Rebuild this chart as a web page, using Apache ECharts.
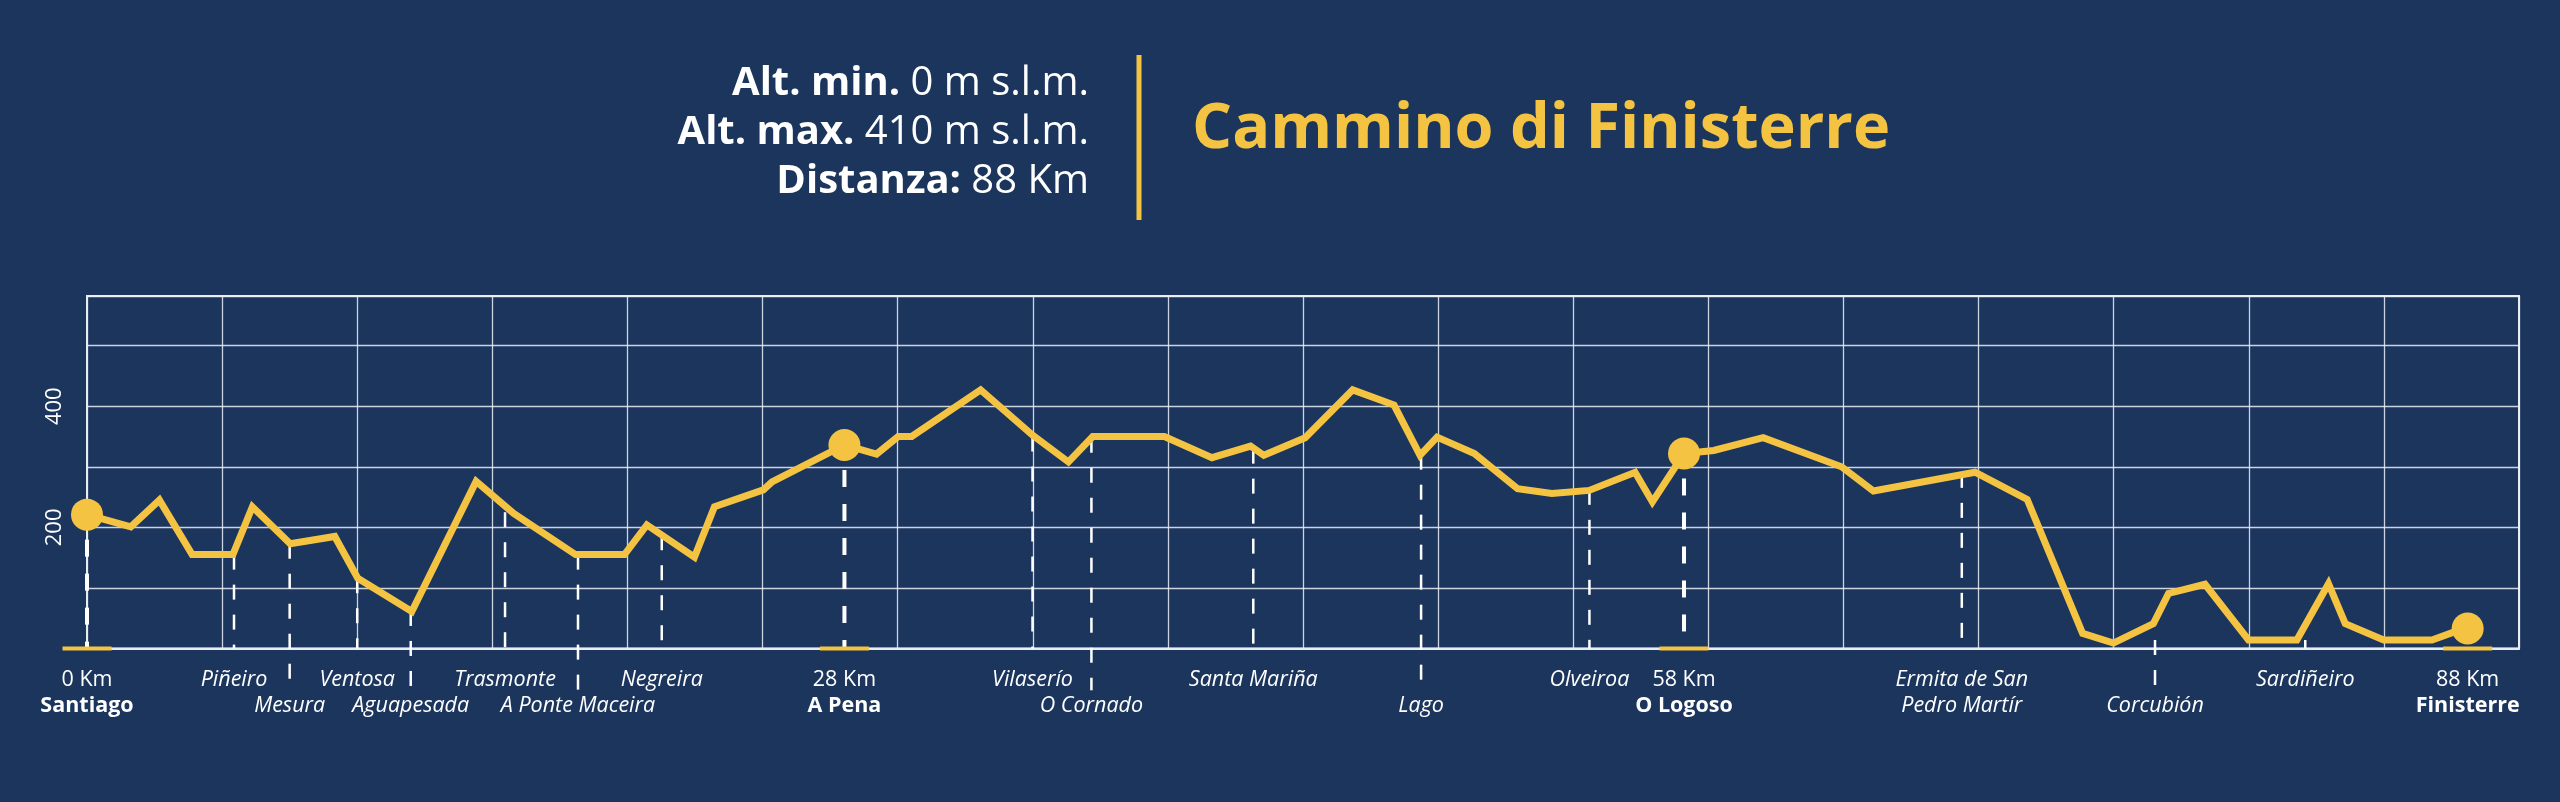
<!DOCTYPE html>
<html>
<head>
<meta charset="utf-8">
<script src="https://cdn.jsdelivr.net/npm/echarts@6/dist/echarts.min.js"></script>
<style>
html,body{margin:0;padding:0;background:#1b355d;}
#chart{width:2560px;height:802px;}
</style>
</head>
<body>
<div id="chart"></div>
<script>
// ---- Data ----
const profileKm  = [0, 1.62, 2.68, 3.89, 5.40, 6.12, 7.52, 9.17, 10.02, 12.02, 14.40, 15.79, 18.08, 19.89, 20.72, 22.48, 23.22, 25.03, 25.35, 28.03, 29.22, 30.02, 30.52, 33.07, 35.0, 36.32, 37.22, 39.87, 41.63, 43.06, 43.55, 45.08, 46.84, 48.37, 49.33, 49.96, 51.34, 52.94, 54.21, 55.59, 57.29, 57.93, 59.1, 60.2, 62.03, 64.93, 66.11, 69.87, 71.8, 73.85, 74.99, 76.47, 77.03, 78.38, 79.99, 81.78, 82.95, 83.57, 84.99, 86.78, 87.58, 88.1];
const profileAlt = [221, 201, 245, 155, 155, 234, 173, 185, 116, 61, 276, 223, 155, 155, 204, 151, 234, 262, 275, 336, 321, 350, 350, 427, 352, 308, 350, 350, 315, 334, 319, 348, 427, 402, 319, 349, 322, 264, 256, 261, 291, 242, 322, 327, 348, 300, 260, 291, 246, 25, 9, 41, 91, 106, 14, 14, 107, 41, 14, 14, 27, 33];

const stationKm   = [0, 5.44, 7.5, 10.0, 11.98, 15.47, 18.17, 21.27, 28.03, 34.99, 37.17, 43.16, 49.37, 55.6, 59.1, 69.38, 76.53, 82.09, 88.1];
const stationTop  = [221, 155, 173, 116, 62, 225, 155, 187, 336, 350, 348, 330, 320, 262, 322, 290, 14, 14, 33];
// 0 = main stage (dot), 1 = label in first row, 2 = label in second row (line goes below axis), 3 = two-line label
const stationKind = [0, 1, 2, 1, 2, 1, 2, 1, 0, 1, 2, 1, 2, 1, 0, 3, 2, 1, 0];
const labelRow1   = ['0 Km', 'Piñeiro', '', 'Ventosa', '', 'Trasmonte', '', 'Negreira', '28 Km', 'Vilaserío', '', 'Santa Mariña', '', 'Olveiroa', '58 Km', 'Ermita de San', '', 'Sardiñeiro', '88 Km'];
const labelRow2   = ['Santiago', '', 'Mesura', '', 'Aguapesada', '', 'A Ponte Maceira', '', 'A Pena', '', 'O Cornado', '', 'Lago', '', 'O Logoso', 'Pedro Martír', 'Corcubión', '', 'Finisterre'];

const dotKm  = [0, 28.03, 59.1, 88.1];
const dotAlt = [221, 336, 322, 33];

const yTickLabels = [200, 400];

const headerLines = [
  ['Alt. min.', '0 m s.l.m.'],
  ['Alt. max.', '410 m s.l.m.'],
  ['Distanza:', '88 Km']
];
const titleText = 'Cammino di Finisterre';

// ---- Styles ----
const BG = '#1b355d';
const YEL = '#f4c342';
const FONT = 'Open Sans';
const BELOW = -69; // how far below the axis the second-row leader lines reach

const chart = echarts.init(document.getElementById('chart'), null, {renderer: 'canvas'});

const profileData = profileKm.map((k, i) => [k, profileAlt[i]]);
const dotData = dotKm.map((k, i) => [k, dotAlt[i]]);
const stationData = stationKm.map((k, i) => [k, stationTop[i], BELOW, stationKind[i]]);

const headerGraphics = headerLines.map((l, i) => ({
  type: 'text',
  x: 1089,
  y: 84 + i * 49,
  style: {
    text: '{b|' + l[0] + '} {r|' + l[1] + '}',
    rich: {
      b: {fontFamily: FONT, fontWeight: 'bold', fontSize: 40, fill: '#fff', color: '#fff'},
      r: {fontFamily: FONT, fontWeight: 'normal', fontSize: 40, fill: '#fff', color: '#fff'}
    },
    fontFamily: FONT, fontSize: 40, fill: '#fff',
    align: 'right', textAlign: 'right',
    verticalAlign: 'middle', textVerticalAlign: 'middle'
  }
}));

function renderStation(params, api) {
  const i = params.dataIndex;
  const km = api.value(0), top = api.value(1), bot = api.value(2), kind = api.value(3);
  const pTop = api.coord([km, top]);
  const pBase = api.coord([km, 0]);
  const pBot = api.coord([km, bot]);
  const endY = kind === 2 ? pBot[1] : pBase[1];
  const major = kind === 0;
  const children = [];
  children.push({
    type: 'line',
    shape: {x1: pTop[0], y1: pTop[1], x2: pTop[0], y2: endY},
    style: {stroke: '#ffffff', lineWidth: major ? 4 : 2.5, lineDash: major ? [17, 17] : [15, 15], lineDashOffset: major ? 9 : 0}
  });
  if (major) {
    children.push({
      type: 'rect',
      shape: {x: pBase[0] - 24.5, y: pBase[1] - 2, width: 49, height: 4},
      style: {fill: YEL}
    });
  }
  const t1 = labelRow1[i], t2 = labelRow2[i];
  if (t1) {
    children.push({
      type: 'text',
      style: {
        text: t1, x: pBase[0], y: pBase[1] + 31,
        font: (major ? 'normal ' : 'italic ') + '21.5px "' + FONT + '"',
        fill: '#ffffff',
        align: 'center', textAlign: 'center', verticalAlign: 'middle', textVerticalAlign: 'middle'
      }
    });
  }
  if (t2) {
    children.push({
      type: 'text',
      style: {
        text: t2, x: pBase[0], y: pBase[1] + 57.5,
        font: (major ? 'bold ' : 'italic ') + '21.5px "' + FONT + '"',
        fill: '#ffffff',
        align: 'center', textAlign: 'center', verticalAlign: 'middle', textVerticalAlign: 'middle'
      }
    });
  }
  return {type: 'group', children: children};
}

const option = {
  backgroundColor: BG,
  animation: false,
  grid: {
    left: 87, right: 41, top: 296, bottom: 153.5,
    show: true, borderColor: '#e8edf3', borderWidth: 2, backgroundColor: 'transparent'
  },
  xAxis: {
    type: 'value', min: 0, max: 90, interval: 5,
    axisLine: {show: true, lineStyle: {color: '#e8edf3', width: 2}},
    axisTick: {show: false},
    axisLabel: {show: false},
    splitLine: {show: true, lineStyle: {color: 'rgba(235,240,246,0.85)', width: 1.3}}
  },
  yAxis: {
    type: 'value', min: 0, max: 582, interval: 100,
    axisLine: {show: true, lineStyle: {color: '#e8edf3', width: 2}},
    axisTick: {show: false},
    axisLabel: {
      show: true, rotate: 90, margin: 21, color: '#ffffff', fontFamily: FONT, fontSize: 22,
      formatter: v => (yTickLabels.indexOf(v) >= 0 ? String(v) : '')
    },
    splitLine: {show: true, lineStyle: {color: 'rgba(235,240,246,0.85)', width: 1.3}}
  },
  graphic: {
    elements: headerGraphics.concat([
      {type: 'rect', shape: {x: 1136.5, y: 55, width: 5, height: 165}, style: {fill: YEL}},
      {type: 'text', x: 1192, y: 130, style: {
        text: titleText, font: 'bold 63px "' + FONT + '"', fill: YEL,
        align: 'left', textAlign: 'left', verticalAlign: 'middle', textVerticalAlign: 'middle'
      }}
    ])
  },
  series: [
    {
      type: 'custom', coordinateSystem: 'cartesian2d', clip: false, z: 2,
      renderItem: renderStation, data: stationData, silent: true
    },
    {
      type: 'line', data: profileData, showSymbol: false, symbol: 'none', z: 3, clip: false,
      lineStyle: {color: YEL, width: 7, join: 'miter'}, silent: true
    },
    {
      type: 'scatter', data: dotData, symbolSize: 32, z: 4, clip: false,
      itemStyle: {color: YEL, opacity: 1}, silent: true
    }
  ]
};
chart.setOption(option);
</script>
</body>
</html>
